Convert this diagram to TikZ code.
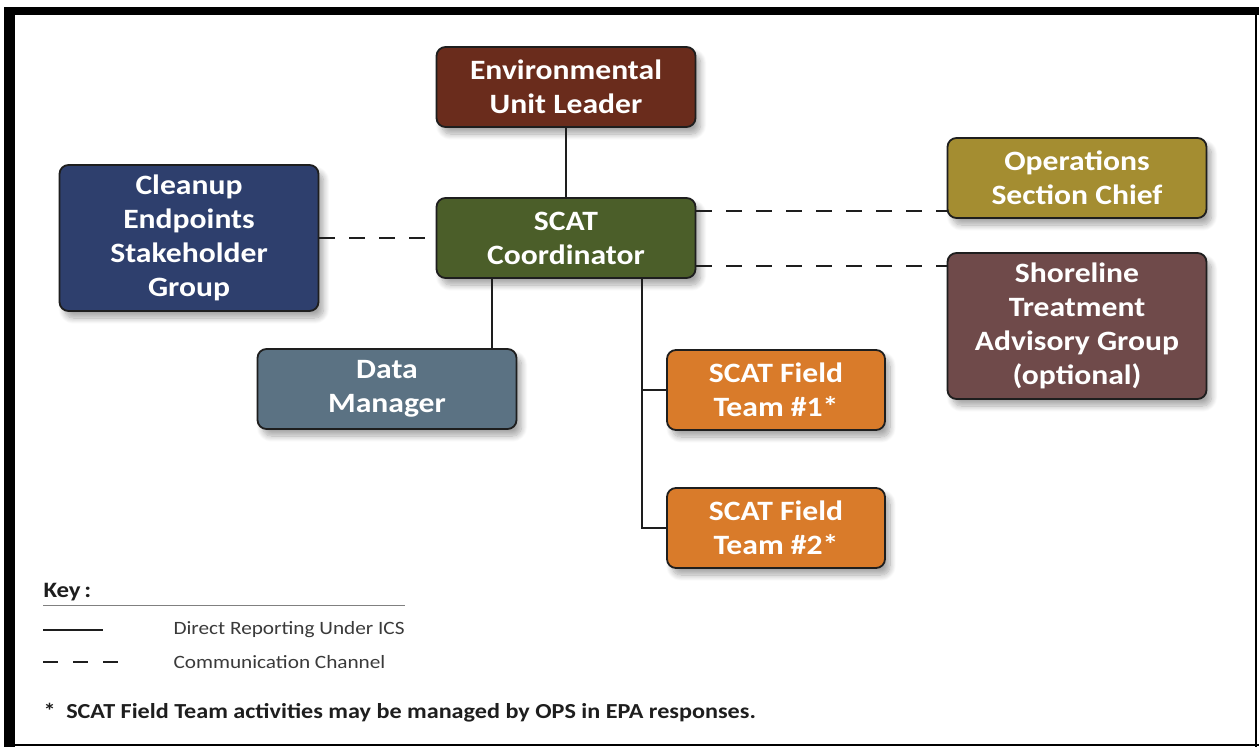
\documentclass[tikz,border=0pt]{standalone}
\usepackage{fontspec}
\setmainfont{Carlito}[FakeStretch=1.13]
\usetikzlibrary{calc,shadows.blur}
\definecolor{scbrown}{HTML}{6A2C1C}
\definecolor{scgreen}{HTML}{4B5E29}
\definecolor{scnavy}{HTML}{2E3F6D}
\definecolor{scgold}{HTML}{A48D31}
\definecolor{scmauve}{HTML}{6F4A4A}
\definecolor{scslate}{HTML}{5B7283}
\definecolor{scorange}{HTML}{D97B2A}
\definecolor{scink}{HTML}{1E1E1E}
\definecolor{scmute}{HTML}{3A3A3A}
\tikzset{
  bx/.style={rounded corners=9pt, draw=scink, line width=1.8pt, align=center, text=white,
    font=\fontsize{28}{34}\selectfont\bfseries, inner sep=2pt,
    blur shadow={shadow xshift=5pt, shadow yshift=-7pt, shadow blur steps=10, shadow blur radius=6pt, shadow opacity=35}},
  unit/.style={bx, minimum width=259pt, minimum height=80pt},
  tall/.style={bx, minimum width=259pt, minimum height=146pt},
  team/.style={bx, minimum width=218pt, minimum height=80pt},
  link/.style={draw=scink, line width=1.6pt},
  comm/.style={draw=scink, line width=1.6pt, dash pattern=on 16pt off 14pt},
  keytxt/.style={anchor=west, text=scmute, font=\fontsize{18.8}{22}\selectfont},
}
\begin{document}
\begin{tikzpicture}[x=1pt, y=-1pt]
      \useasboundingbox (0,0) rectangle (1259,747);
      % frame
      \fill[black] (4,7) rectangle (1259,15);
      \fill[black] (4,7) rectangle (15,747);
      \fill[black] (1255,15) rectangle (1257,747);
      \fill[black] (4,744) rectangle (1259,746);
      % boxes
      \node[unit, fill=scbrown] (eul) at (566,87) {Environmental\\Unit Leader};
      \node[unit, fill=scgreen] (scat) at (566,238) {SCAT\\Coordinator};
      \node[tall, fill=scnavy] (ceg) at (189,238) {Cleanup\\Endpoints\\Stakeholder\\Group};
      \node[unit, fill=scgold] (ops) at (1077,178) {Operations\\Section Chief};
      \node[tall, fill=scmauve] (stag) at (1077,326) {Shoreline\\Treatment\\Advisory Group\\(optional)};
      \node[unit, fill=scslate] (dm) at (387,389) {Data\\Manager};
      \node[team, fill=scorange] (ft1) at (776,390) {SCAT Field\\Team \#1*};
      \node[team, fill=scorange] (ft2) at (776,528) {SCAT Field\\Team \#2*};
      % reporting lines
      \draw[link] (eul) -- (scat);
      \draw[link] ([xshift=-74pt]scat.south) -- ([xshift=-74pt]scat.south |- dm.north);
      \coordinate (br) at ([xshift=76pt]scat.south);
      \draw[link] (br) |- (ft1.west);
      \draw[link] (br) |- (ft2.west);
      % communication
      \draw[comm] (ceg.east |- scat.west) -- (scat.west);
      \draw[comm] ([yshift=-28pt]scat.east) -- ([yshift=-28pt]scat.east -| ops.west);
      \draw[comm] ([yshift=27pt]scat.east) -- ([yshift=27pt]scat.east -| stag.west);
      % key
      \node[anchor=west, text=scink, font=\fontsize{22}{26}\selectfont\bfseries] (key) at (40,592) {Key\,:};
      \draw[draw=gray, line width=0.8pt] (43,605) -- (405,605);
      \node[keytxt] (k1) at (170,630) {Direct Reporting Under ICS};
      \node[keytxt] (k2) at (170,662) {Communication Channel};
      \draw[link] ([xshift=-127pt]k1.west) -- ([xshift=-67pt]k1.west);
      \draw[comm, dash pattern=on 15pt off 15pt] ([xshift=-127pt]k2.west) -- ([xshift=-52pt]k2.west);
      \node[anchor=west, text=scink, font=\fontsize{21.4}{25}\selectfont\bfseries] (note) at (40,713) {*\enspace SCAT Field Team activities may be managed by OPS in EPA responses.};
\end{tikzpicture}
\end{document}
